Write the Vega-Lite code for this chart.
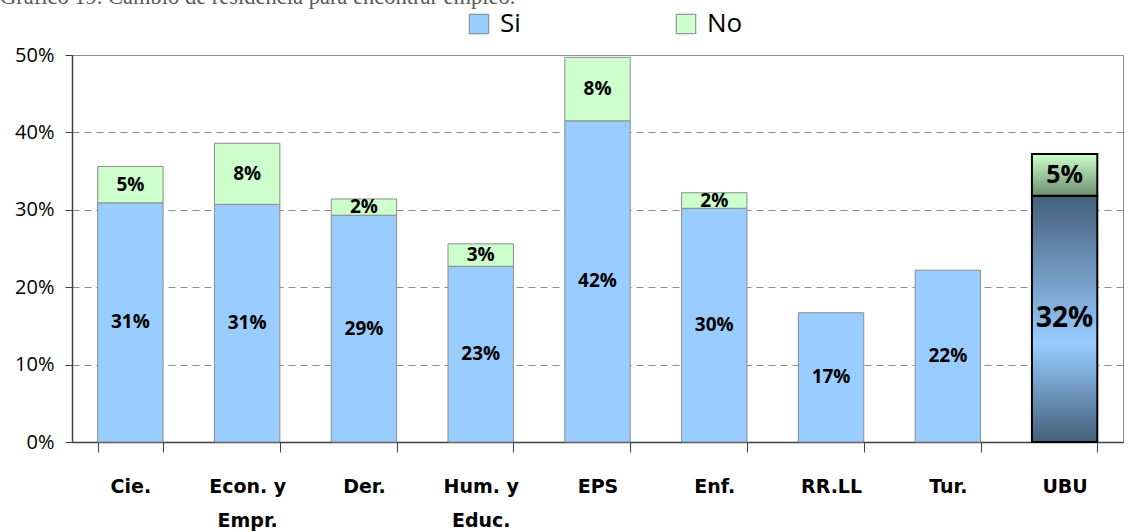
{
  "$schema": "https://vega.github.io/schema/vega-lite/v6.json",
  "autosize": {"type": "none"},
  "padding": {"left": 72, "top": 55, "right": 7, "bottom": 90},
  "width": 1051,
  "height": 387,
  "background": "white",
  "title": {
    "text": "Gráfico 19. Cambio de residencia para encontrar empleo.",
    "anchor": "start",
    "frame": "group",
    "dx": -72,
    "offset": -15,
    "baseline": "alphabetic",
    "font": "Liberation Serif",
    "fontSize": 22.5,
    "fontWeight": "normal",
    "color": "#595959"
  },
  "config": {
    "view": {"stroke": "#8c8c8c", "strokeWidth": 1},
    "font": "Open Sans"
  },
  "data": {
    "values": [
      {"cat": "Cie.", "serie": "Si", "value": 0.309},
      {"cat": "Cie.", "serie": "No", "value": 0.047},
      {"cat": "Econ. y Empr.", "serie": "Si", "value": 0.307},
      {"cat": "Econ. y Empr.", "serie": "No", "value": 0.079},
      {"cat": "Der.", "serie": "Si", "value": 0.293},
      {"cat": "Der.", "serie": "No", "value": 0.021},
      {"cat": "Hum. y Educ.", "serie": "Si", "value": 0.227},
      {"cat": "Hum. y Educ.", "serie": "No", "value": 0.029},
      {"cat": "EPS", "serie": "Si", "value": 0.415},
      {"cat": "EPS", "serie": "No", "value": 0.082},
      {"cat": "Enf.", "serie": "Si", "value": 0.302},
      {"cat": "Enf.", "serie": "No", "value": 0.020},
      {"cat": "RR.LL", "serie": "Si", "value": 0.167},
      {"cat": "Tur.", "serie": "Si", "value": 0.222},
      {"cat": "UBU", "serie": "Si", "value": 0.318},
      {"cat": "UBU", "serie": "No", "value": 0.054}
    ]
  },
  "transform": [
    {"stack": "value", "groupby": ["cat"], "sort": [{"field": "serie", "order": "descending"}], "as": ["v0", "v1"]}
  ],
  "encoding": {
    "x": {
      "field": "cat",
      "type": "nominal",
      "sort": ["Cie.", "Econ. y Empr.", "Der.", "Hum. y Educ.", "EPS", "Enf.", "RR.LL", "Tur.", "UBU"],
      "scale": {"paddingInner": 0.44, "paddingOuter": 0.22},
      "axis": {
        "title": null,
        "labelAngle": 0,
        "labelFont": "DejaVu Sans",
        "labelFontSize": 19,
        "labelFontWeight": "bold",
        "labelColor": "#000000",
        "labelLineHeight": 34,
        "labelPadding": 34,
        "labelBaseline": "middle",
        "labelExpr": "indexof(datum.label, ' y ') > 0 ? [slice(datum.label, 0, indexof(datum.label, ' y ') + 2), slice(datum.label, indexof(datum.label, ' y ') + 3)] : datum.label",
        "tickBand": "extent",
        "tickSize": 10,
        "tickColor": "#404040",
        "domainColor": "#404040",
        "domainWidth": 1.5,
        "grid": false
      }
    }
  },
  "layer": [
    {
      "transform": [{"filter": "datum.cat != 'UBU'"}],
      "mark": {"type": "bar", "stroke": "#8c8c8c", "strokeWidth": 1},
      "encoding": {
        "y": {
          "field": "v0",
          "type": "quantitative",
          "scale": {"domain": [0, 0.5], "nice": false},
          "axis": {
            "title": null,
            "format": ".0%",
            "values": [0, 0.1, 0.2, 0.3, 0.4, 0.5],
            "labelFont": "Open Sans",
            "labelFontSize": 20,
            "labelColor": "#000000",
            "labelPadding": 11,
            "tickSize": 7,
            "tickColor": "#404040",
            "domainColor": "#404040",
            "domainWidth": 1.5,
            "grid": true,
            "gridColor": "#8c8c8c",
            "gridDash": [7, 5],
            "gridWidth": 1
          }
        },
        "y2": {"field": "v1"},
        "color": {
          "field": "serie",
          "type": "nominal",
          "scale": {"domain": ["Si", "No"], "range": ["#99CCFF", "#CCFFCC"]},
          "legend": {
            "title": null,
            "orient": "none",
            "direction": "horizontal",
            "legendX": 394,
            "legendY": -44,
            "symbolType": "square",
            "symbolSize": 380,
            "symbolStrokeColor": "#808080",
            "symbolStrokeWidth": 1,
            "symbolOpacity": 1,
            "labelFont": "Open Sans",
            "labelFontSize": 26,
            "labelColor": "#000000",
            "labelOffset": 8,
            "columnPadding": 152
          }
        }
      }
    },
    {
      "transform": [{"filter": "datum.cat == 'UBU' && datum.serie == 'Si'"}],
      "mark": {
        "type": "bar",
        "stroke": "#000000",
        "strokeWidth": 2,
        "fill": {
          "gradient": "linear",
          "x1": 0, "y1": 0, "x2": 0, "y2": 1,
          "stops": [
            {"offset": 0, "color": "#44607A"},
            {"offset": 0.6, "color": "#99CCFF"},
            {"offset": 1, "color": "#42607A"}
          ]
        }
      },
      "encoding": {
        "y": {"field": "v0", "type": "quantitative"},
        "y2": {"field": "v1"}
      }
    },
    {
      "transform": [{"filter": "datum.cat == 'UBU' && datum.serie == 'No'"}],
      "mark": {
        "type": "bar",
        "stroke": "#000000",
        "strokeWidth": 2,
        "fill": {
          "gradient": "linear",
          "x1": 0, "y1": 0, "x2": 0, "y2": 1,
          "stops": [
            {"offset": 0, "color": "#CCFFCC"},
            {"offset": 1, "color": "#6E8F6E"}
          ]
        }
      },
      "encoding": {
        "y": {"field": "v0", "type": "quantitative"},
        "y2": {"field": "v1"}
      }
    },
    {
      "transform": [
        {"fold": ["v0", "v1"], "as": ["k", "pos"]},
        {"aggregate": [{"op": "mean", "field": "pos", "as": "mid"}], "groupby": ["cat", "serie", "value"]}
      ],
      "mark": {"type": "text", "baseline": "middle", "color": "#000000", "fontWeight": "bold"},
      "encoding": {
        "y": {"field": "mid", "type": "quantitative"},
        "text": {"field": "value", "type": "quantitative", "format": ".0%"},
        "size": {
          "condition": [
            {"test": "datum.cat == 'UBU' && datum.serie == 'Si'", "value": 28},
            {"test": "datum.cat == 'UBU' && datum.serie == 'No'", "value": 25}
          ],
          "value": 19
        }
      }
    }
  ]
}
